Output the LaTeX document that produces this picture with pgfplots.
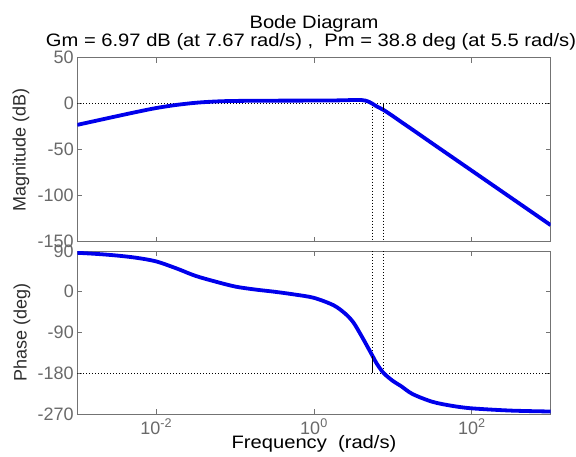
\documentclass[border=0pt]{standalone}
\usepackage{fontspec}
\setmainfont{Liberation Sans}
\newfontfamily\widefont[FakeStretch=1.12]{Liberation Sans}
\usepackage{pgfplots}
\pgfplotsset{compat=1.18}

\definecolor{axgray}{RGB}{115,115,115}
\definecolor{tickgray}{RGB}{105,105,105}
\definecolor{labgray}{RGB}{45,45,45}
\definecolor{bodeblue}{RGB}{0,0,235}

\tikzset{
  bodecurve/.style={bodeblue, line width=3.8pt, line join=round, smooth, tension=0.5},
  bodedots/.style={black, line width=0.7pt, dash pattern=on 0.9pt off 2.1pt},
}

\begin{document}
\begin{tikzpicture}
\path[use as bounding box] (0pt,0pt) rectangle (576pt,456pt);

% magnitude
\begin{axis}[
  xmode=log, xmin=1e-3, xmax=1e3,
  scale only axis, width=473.4pt, height=184pt,
  at={(77.3pt,214.3pt)}, anchor=south west,
  xtick={1e-2,1,1e2}, xticklabels={},
  xminorticks=false, yminorticks=false,
  axis line style={axgray, line width=0.9pt},
  tick style={axgray, line width=0.9pt},
  major tick length=5pt, tick align=inside,
  tick label style={font=\fontsize{18}{20}\selectfont, text=tickgray},
  ymin=-150, ymax=50,
  ytick={-150,-100,-50,0,50}, yticklabels={-150,-100,-50,0,50},
  ylabel={Magnitude (dB)},
  ylabel style={font=\fontsize{18}{20}\selectfont, at={(axis description cs:-0.119,0.5)}, anchor=center, text=labgray},
]
\addplot[bodedots] coordinates {(1e-3,0) (1e3,0)};
\addplot[bodedots] coordinates {(5.5,0) (5.5,-150)};
\addplot[bodedots] coordinates {(7.67,0) (7.67,-150)};
\addplot[bodecurve] coordinates {
(0.001,-23) (0.001778,-18.3) (0.003162,-13.6) (0.005623,-9.0) (0.01,-4.7)
(0.01778,-1.4) (0.03162,1.0) (0.05623,2.4) (0.1,3.0) (0.3162,3.3) (1,3.4)
(2,3.6) (3.162,4.0) (3.981,4.0) (4.467,3.4) (5.012,1.9) (5.5,0) (6.31,-3.2)
(7.67,-6.97) (10,-13.5) (12.59,-19.5) (17.78,-28.3) (31.62,-43.2) (100,-72.8)
(316.2,-102.4) (1000,-132)};
\addplot[black, line width=1pt] coordinates {(7.67,0) (7.67,-6.97)};
\end{axis}

% phase
\begin{axis}[
  xmode=log, xmin=1e-3, xmax=1e3,
  scale only axis, width=473.4pt, height=163pt,
  at={(77.3pt,42pt)}, anchor=south west,
  xtick={1e-2,1,1e2},
  xticklabels={10\textsuperscript{-2},10\textsuperscript{0},10\textsuperscript{2}},
  xticklabel style={yshift=-1.5pt},
  xminorticks=false, yminorticks=false,
  axis line style={axgray, line width=0.9pt},
  tick style={axgray, line width=0.9pt},
  major tick length=5pt, tick align=inside,
  tick label style={font=\fontsize{18}{20}\selectfont, text=tickgray},
  ymin=-270, ymax=90,
  ytick={-270,-180,-90,0,90}, yticklabels={-270,-180,-90,0,90},
  ylabel={Phase (deg)},
  ylabel style={font=\fontsize{18}{20}\selectfont, at={(axis description cs:-0.117,0.5)}, anchor=center, text=labgray},
  xlabel={Frequency\ \ (rad/s)},
  xlabel style={font=\widefont\fontsize{18}{20}\selectfont, at={(axis description cs:0.5,-0.2147)}, anchor=base},
]
\addplot[bodedots] coordinates {(1e-3,-180) (1e3,-180)};
\addplot[bodedots] coordinates {(5.5,90) (5.5,-141.2)};
\addplot[bodedots] coordinates {(7.67,90) (7.67,-180)};
\addplot[bodecurve] coordinates {
(0.001,86) (0.001778,83.5) (0.003162,80) (0.005623,75) (0.01,67)
(0.01778,52) (0.03162,35) (0.05623,22.5) (0.1,11.5) (0.1778,5) (0.3162,0)
(0.5623,-6) (1,-13.5) (1.778,-30) (2.512,-49) (3.162,-68) (3.981,-97)
(4.786,-122) (5.5,-141.2) (6.31,-160) (7.67,-180) (10,-197) (12.59,-208)
(17.78,-226) (31.62,-243) (56.23,-252) (100,-257.5) (316.2,-262.5) (1000,-264.5)};
\addplot[black, line width=1pt] coordinates {(5.5,-180) (5.5,-141.2)};
\end{axis}

\node[anchor=base, font=\widefont\fontsize{18}{20}\selectfont] at (314pt,427.7pt) {Bode Diagram};
\node[anchor=base, font=\widefont\fontsize{18}{20}\selectfont] at (311pt,409.3pt)
  {Gm = 6.97 dB (at 7.67 rad/s) ,\ \ Pm = 38.8 deg (at 5.5 rad/s)};
\end{tikzpicture}
\end{document}
